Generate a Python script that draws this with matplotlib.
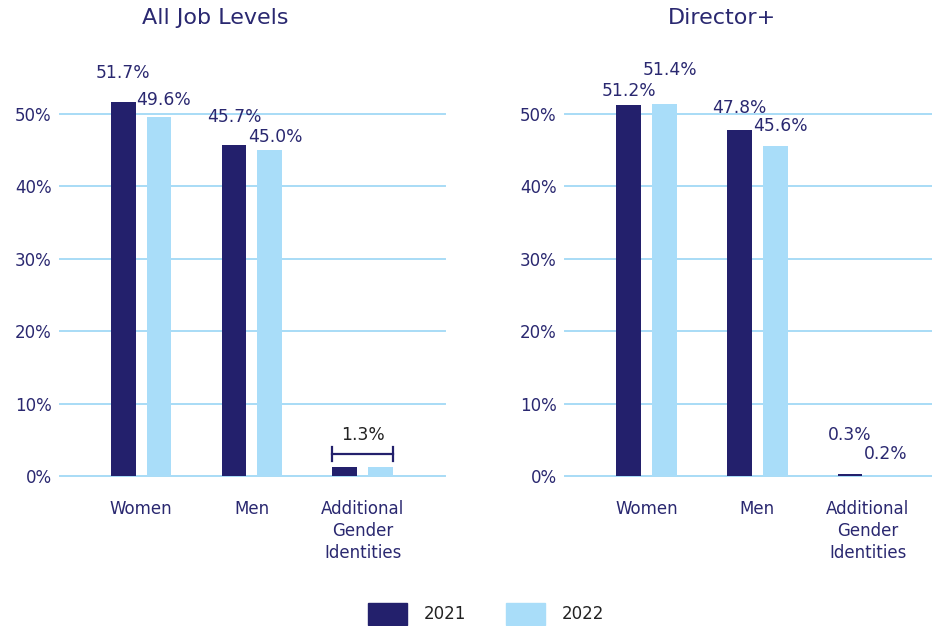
import matplotlib.pyplot as plt
from matplotlib.patches import Patch
import numpy as np

categories = ["Women", "Men", "Additional\nGender\nIdentities"]
years = ["2021", "2022"]

all_2021 = [51.7, 45.7, 1.3]
all_2022 = [49.6, 45.0, 1.3]
dir_2021 = [51.2, 47.8, 0.3]
dir_2022 = [51.4, 45.6, 0.2]

panel_titles = ["All Job Levels", "Director+"]
y_ticks = [0, 10, 20, 30, 40, 50]

NAVY = "#23206c"
LIGHT = "#a9ddf9"
GRID = "#a8dcf6"
TEXT = "#2a2870"

plt.rcParams["font.family"] = "DejaVu Sans"

fig = plt.figure(figsize=(9.32, 6.26), dpi=100)
ax_left = fig.add_axes([0.0644, 0.2396, 0.4131, 0.6476])
ax_right = fig.add_axes([0.6062, 0.2396, 0.3938, 0.6476])

x = np.arange(len(categories))
offset = 0.162
width = 0.225

# label offsets (pixels above bar top) for each panel: (2021, 2022)
label_dy = [
    ([29, 28, None], [17, 13, None]),
    ([14, 22, 39], [34, 20, 21]),
]


def draw_panel(ax, v21, v22, dy, xlim):
    ax.set_xlim(*xlim)
    ax.set_ylim(0, 56)
    for t in y_ticks:
        ax.axhline(t, color=GRID, lw=1.4, zorder=0, clip_on=False)
    ax.bar(x - offset, v21, width, color=NAVY, zorder=2)
    ax.bar(x + offset, v22, width, color=LIGHT, zorder=2)
    for i in range(len(categories)):
        if dy[0][i] is not None:
            ax.annotate(f"{v21[i]:.1f}%", (x[i] - offset, v21[i]),
                        xytext=(0, dy[0][i]), textcoords="offset pixels",
                        ha="center", va="center", fontsize=12.3, color=TEXT)
        if dy[1][i] is not None:
            dx = 5 if i < 2 else 0
            ax.annotate(f"{v22[i]:.1f}%", (x[i] + offset, v22[i]),
                        xytext=(dx, dy[1][i]), textcoords="offset pixels",
                        ha="center", va="center", fontsize=12.3, color=TEXT)
    ax.set_yticks(y_ticks)
    ax.set_yticklabels([f"{t}%" for t in y_ticks], fontsize=12, color=TEXT)
    ax.set_xticks(x)
    ax.set_xticklabels(categories, fontsize=12, color=TEXT, linespacing=1.3,
                       va="top")
    ax.tick_params(axis="both", length=0)
    ax.tick_params(axis="x", pad=17)
    ax.tick_params(axis="y", pad=6)
    for s in ax.spines.values():
        s.set_visible(False)


draw_panel(ax_left, all_2021, all_2022, label_dy[0], (-0.73, 2.74))
draw_panel(ax_right, dir_2021, dir_2022, label_dy[1], (-0.74, 2.58))

# bracket over the additional identities bars (left panel)
i = 2
x0 = x[i] - offset - width / 2
x1 = x[i] + offset + width / 2
ybr = all_2021[i] + 1.7
ax_left.plot([x0, x1], [ybr, ybr], color=NAVY, lw=1.6, zorder=3)
for xe in (x0, x1):
    ax_left.plot([xe, xe], [ybr - 0.95, ybr + 0.95], color=NAVY, lw=1.6, zorder=3)
ax_left.text(x[i], ybr + 2.6, f"{all_2021[i]:.1f}%", ha="center", va="center",
             fontsize=12.3, color="#222222")

fig.text(215 / 932, 1 - 18 / 626, panel_titles[0], ha="center", va="center",
         fontsize=16, color=TEXT)
fig.text(722 / 932, 1 - 18 / 626, panel_titles[1], ha="center", va="center",
         fontsize=16, color=TEXT)

handles = [Patch(color=NAVY), Patch(color=LIGHT)]
fig.legend(handles, years, loc="center", bbox_to_anchor=(486 / 932, 1 - 614 / 626),
           ncol=2, frameon=False, fontsize=12, handlelength=2.35,
           handleheight=1.6, handletextpad=1.0, columnspacing=2.4,
           labelcolor="#222222")

fig.savefig("out.png", dpi=100)
